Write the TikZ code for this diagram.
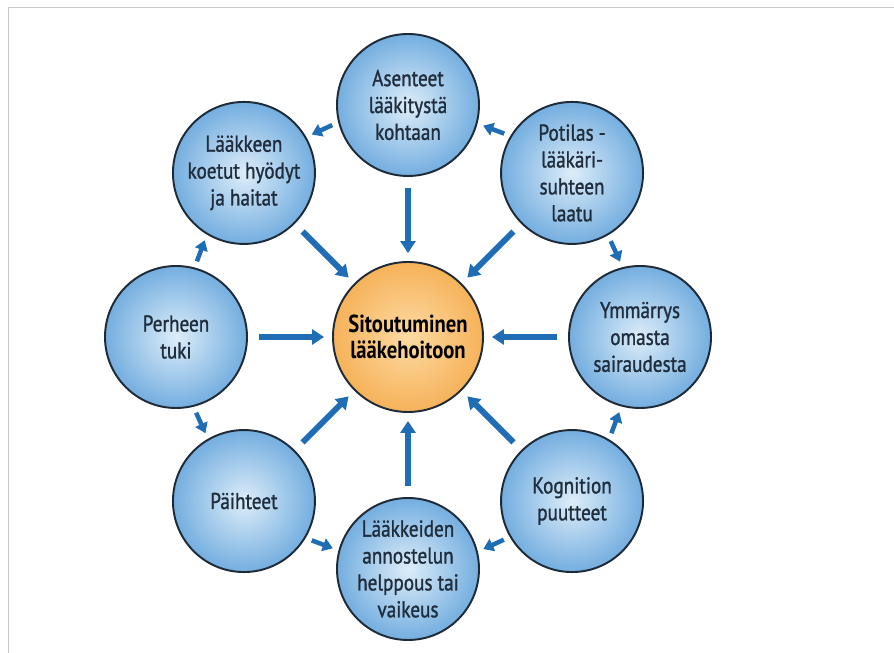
\documentclass[tikz,border=0pt]{standalone}
\usepackage{fontspec}
\setmainfont[FakeStretch=0.84]{PT Sans}
\newfontfamily\ringfont[FakeStretch=0.84, FakeBold=1.2]{PT Sans}
\usetikzlibrary{arrows.meta}
\definecolor{ballin}{HTML}{DDEDF9}
\definecolor{ballout}{HTML}{74AEDF}
\definecolor{hubin}{HTML}{FDDBA4}
\definecolor{hubout}{HTML}{F6B25A}
\definecolor{ringline}{HTML}{1E2A36}
\definecolor{labeltext}{HTML}{1F2D3D}
\definecolor{arrowblue}{HTML}{1F6DB4}
\definecolor{framegray}{HTML}{C8C8C8}
\begin{document}
\begin{tikzpicture}[
    outer/.style={circle, draw=ringline, line width=1.1pt, minimum size=2.84cm,
      inner sep=0pt, inner color=ballin, outer color=ballout, text=labeltext,
      align=center, font=\ringfont\fontsize{13}{15.3}\selectfont},
    hub/.style={circle, draw=ringline, line width=1.1pt, minimum size=3cm,
      inner sep=0pt, inner color=hubin, outer color=hubout, text=black,
      align=center, font=\fontsize{14}{14.4}\selectfont\bfseries},
    bigarrow/.style={draw=arrowblue, line width=0.12cm,
      -{Triangle[length=0.24cm, width=0.3cm]},
      shorten <=0.22cm, shorten >=0.16cm},
    smallarrow/.style={draw=arrowblue, line width=0.09cm,
      -{Triangle[length=0.2cm, width=0.26cm]},
      shorten <=0.13cm, shorten >=0.12cm}
  ]
  \useasboundingbox (-8.16,-6.32) rectangle (9.72,6.74);
  \draw[framegray, line width=1.1pt] (-7.99,-6.32) -- (-7.99,6.59) -- (9.72,6.59);
  \draw
    (0,0) node[hub] (sitoutuminen) {Sitoutuminen\\lääkehoitoon}
    (0:4.64) node[outer] (ymmarrys) {Ymmärrys\\omasta\\sairaudesta}
    (45:4.64) node[outer] (potilas) {Potilas -\\lääkäri-\\suhteen\\laatu}
    (90:4.64) node[outer] (asenteet) {Asenteet\\lääkitystä\\kohtaan}
    (135:4.64) node[outer] (laakkeen) {Lääkkeen\\koetut hyödyt\\ja haitat}
    (180:4.64) node[outer] (perhe) {Perheen\\tuki}
    (225:4.64) node[outer] (paihteet) {Päihteet}
    (270:4.64) node[outer] (annostelu) {Lääkkeiden\\annostelun\\helppous tai\\vaikeus}
    (315:4.64) node[outer] (kognitio) {Kognition\\puutteet};
  % toward the centre
  \begin{scope}[bigarrow]
    \draw (ymmarrys) to (sitoutuminen);
    \draw (potilas) to (sitoutuminen);
    \draw (asenteet) to (sitoutuminen);
    \draw (laakkeen) to (sitoutuminen);
    \draw (perhe) to (sitoutuminen);
    \draw (paihteet) to (sitoutuminen);
    \draw (annostelu) to (sitoutuminen);
    \draw (kognitio) to (sitoutuminen);
  \end{scope}
  % round the ring
  \begin{scope}[smallarrow]
    \draw (asenteet.194.5) to (laakkeen.30.5);
    \draw (potilas.149.5) to (asenteet.345.5);
    \draw (potilas.300.5) to (ymmarrys.104.5);
    \draw (kognitio.59.5) to (ymmarrys.255.5);
    \draw (kognitio.210.5) to (annostelu.14.5);
    \draw (paihteet.329.5) to (annostelu.165.5);
    \draw (perhe.284.5) to (paihteet.120.5);
    \draw (perhe.75.5) to (laakkeen.239.5);
  \end{scope}
\end{tikzpicture}
\end{document}
